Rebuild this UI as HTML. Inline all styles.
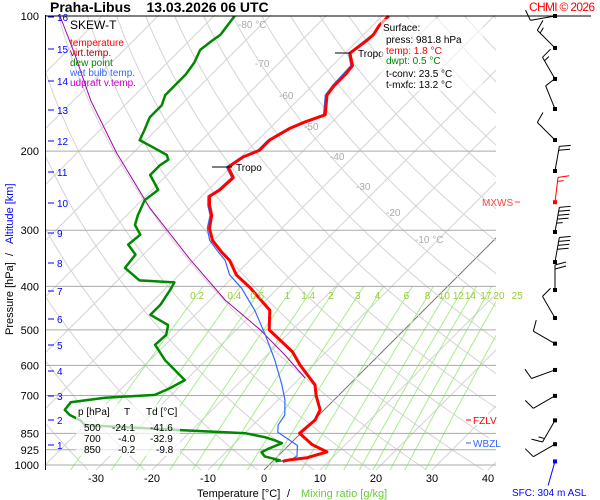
<!DOCTYPE html>
<html><head><meta charset="utf-8">
<style>
body{margin:0;background:#fff;}
svg{display:block;font-family:"Liberation Sans",sans-serif;}
</style></head>
<body>
<svg id="chart" width="600" height="500" viewBox="0 0 600 500" xmlns="http://www.w3.org/2000/svg">
<defs><clipPath id="plotclip"><rect x="45" y="15" width="451" height="455"/></clipPath></defs>
<rect width="600" height="500" fill="#fff"/>
<g id="grid" clip-path="url(#plotclip)"></g>
<g id="series" clip-path="url(#plotclip)"></g>
<g id="overlay"></g>
<g id="barbs"></g>

<text x="50" y="12" font-size="14" font-weight="bold">Praha-Libus&#160;&#160;&#160; 13.03.2026 06 UTC</text>
<text x="529" y="11" font-size="12" fill="#f00" textLength="66">CHMI © 2026</text>

<text x="70" y="29" font-size="12">SKEW-T</text>
<text x="70" y="46" font-size="10" fill="#f00">temperature</text>
<text x="70" y="56" font-size="10" fill="#a00">virt.temp.</text>
<text x="70" y="66" font-size="10" fill="#080">dew point</text>
<text x="70" y="76" font-size="10" fill="#36f">wet bulb temp.</text>
<text x="70" y="86" font-size="10" fill="#c0c">udpraft v.temp.</text>

<rect x="381" y="19" width="102" height="72" fill="#fff" opacity="0.6"/>
<g font-size="10">
<text x="383" y="31">Surface:</text>
<text x="386" y="43">press: 981.8 hPa</text>
<text x="386" y="54" fill="#f00">temp: 1.8 °C</text>
<text x="386" y="64" fill="#080">dwpt: 0.5 °C</text>
<text x="386" y="77">t-conv: 23.5 °C</text>
<text x="386" y="88">t-mxfc: 13.2 °C</text>
</g>

<rect x="76" y="404" width="104" height="52" fill="#fff" opacity="0.7"/>
<g font-size="10">
<text x="78" y="415">p [hPa]</text><text x="124" y="415">T</text><text x="146" y="415">Td [°C]</text>
<text x="84" y="431">500</text><text x="112" y="431">-24.1</text><text x="150" y="431">-41.6</text>
<text x="84" y="442">700</text><text x="118" y="442">-4.0</text><text x="150" y="442">-32.9</text>
<text x="84" y="453">850</text><text x="118" y="453">-0.2</text><text x="156" y="453">-9.8</text>
</g>

<g font-size="11">
<text x="197" y="497">Temperature [°C]</text><text x="287" y="497">/</text><text x="301" y="497" fill="#6c3">Mixing ratio [g/kg]</text>
</g>
<g transform="translate(13,250) rotate(-90)" font-size="11">
<text x="-85" y="0">Pressure [hPa]</text><text x="-6" y="0">/</text><text x="6" y="0" fill="#00f">Altitude [km]</text>
</g>

<text x="512" y="496" font-size="10" fill="#00f">SFC: 304 m ASL</text>
<g><text x="482" y="206" font-size="10" fill="#f44">MXWS</text><line x1="515" y1="202" x2="520" y2="202" stroke="#f44"/></g>
<g><rect x="472" y="414" width="32" height="11" fill="#fff"/><line x1="466" y1="420" x2="471" y2="420" stroke="#f00"/><text x="473" y="424" font-size="10" fill="#f00">FZLV</text></g>
<g><rect x="472" y="438" width="32" height="11" fill="#fff"/><line x1="466" y1="443" x2="471" y2="443" stroke="#36f"/><text x="473" y="447" font-size="10" fill="#36f">WBZL</text></g>

<script>
// ---- data ----
const pressureLevels=[100,200,300,400,500,600,700,850,925,1000];
const heightKm=[16,15,14,13,12,11,10,9,8,7,6,5,4,3,2,1];
const heightY=[17,49,81,110,141,172,203,233,263,291,319,345,371,396,420,445];
const tempTicks=[-30,-20,-10,0,10,20,30,40];
const isothermLabels=[-80,-70,-60,-50,-40,-30,-20,-10];
const mixingRatios=[0.2,0.4,0.6,1,1.4,2,3,4,6,8,10,12,14,17,20,25];

const tempP=[100,105,110,114,121,129,135,143,150,166,172,178,189,199,206,217,229,244,252,264,278,297,316,336,350,377,403,452,500,560,599,663,700,754,794,850,901,935,963,973,978,981.8];
const tempT=[-58.8,-58.8,-58.2,-58.4,-59.1,-56.4,-56.1,-56.1,-55.7,-52.5,-54.8,-56.4,-57.9,-57.9,-59.6,-60.5,-57.7,-57.9,-58.6,-57,-54.8,-52.9,-50.2,-46.4,-43.6,-39.8,-35,-27.5,-24.1,-16,-12.3,-6.1,-4.0,-0.7,0.2,-0.2,4.1,8,5.5,2.9,2.1,1.8];

const dewP=[100,105,110,114,119,127,135,143,150,158,168,180,189,197,204,209,215,226,244,257,278,292,307,323,340,364,388,392,408,440,463,488,513,540,584,647,674,698,708,725,754,774,794,815,836,850,858,867,881,894,918,937,957,976,981.8];
const dewT=[-86.3,-85.9,-85.5,-86,-86.4,-85.2,-84.6,-84.6,-84.6,-83.4,-83.4,-82,-81.1,-77,-73.6,-72.5,-73,-73,-68.9,-69.5,-68,-66.8,-64.1,-64.5,-61.4,-60.9,-56.1,-49.5,-48.9,-48,-48,-43,-41.6,-41.8,-37.3,-30.2,-31.4,-32.9,-41.3,-46.6,-46.3,-44.5,-41.8,-40,-22.1,-9.8,-7.9,-5.7,-3.4,-1.6,-2.9,-3.6,-2.3,1.1,0.5];

const wetP=[100,110,121,129,143,150,166,178,189,199,206,217,229,244,252,264,278,297,316,336,350,377,403,452,513,584,663,716,774,815,845,881,905,955,976,981.8];
const wetT=[-59,-58.4,-59.3,-56.7,-56.4,-56,-52.8,-56.7,-58.2,-58.2,-59.9,-60.8,-58,-58.2,-58.9,-57.3,-55.1,-53.3,-50.7,-47,-44.4,-41,-36.6,-30.2,-23.9,-17.7,-12,-8.8,-6.1,-5.5,-4.3,-0.7,1.6,3.4,2.9,1.2];

const updP=[100,122,154,202,268,349,429,500,569,640];
const updT=[-117.5,-107.9,-97,-82.9,-67.1,-50.7,-37.3,-25.7,-16.8,-9.1];

const windP=[100,117.8,138.1,161.1,188.9,221.4,259.8,302.7,353.2,407.6,470.6,536.7,614.2,701.5,795.4,898.8,981.8];
const windDir=[260,315,330,338,315,10,7,10,10,0,330,300,250,240,210,240,196];
const windSpd=[10,15,15,10,10,20,15,45,40,20,10,10,10,10,15,10,0];

// ---- axes ----
const NS='http://www.w3.org/2000/svg';
const Y0=16, KY=195, XB=470;
function yP(p){return Y0+KY*Math.log(p/100);}
function xTY(t,y){return 264+5.6*t+(XB-y);}
function xTP(t,p){return xTY(t,yP(p));}
function mk(tag,attrs,parent){const e=document.createElementNS(NS,tag);for(const k in attrs)e.setAttribute(k,attrs[k]);parent.appendChild(e);return e;}
const grid=document.getElementById('grid'),series=document.getElementById('series'),overlay=document.getElementById('overlay'),barbs=document.getElementById('barbs');

for(let t=-170;t<=40;t+=10){
  const l=mk('line',{x1:xTY(t,470),y1:470,x2:xTY(t,15),y2:15,stroke:t===0?'#777':'#d4d4d4','stroke-width':1},grid);
  
  
}
for(let th=230;th<=520;th+=10){
  let d='';
  for(let p=1050;p>=95;p-=10){const T=th*Math.pow(p/1000,0.2857)-273.15;d+=(d?'L':'M')+xTP(T,p).toFixed(1)+' '+yP(p).toFixed(1);}
  const a=mk('path',{d:d,fill:'none',stroke:'#d4d4d4','stroke-width':1},grid);
  
  
}
mixingRatios.forEach(w=>{
  let d='';
  for(let p=1050;p>=400;p-=10){const e=w*p/(622+w);const L=Math.log(e/6.112);const T=243.5*L/(17.67-L);d+=(d?'L':'M')+xTP(T,p).toFixed(1)+' '+yP(p).toFixed(1);}
  const m=mk('path',{d:d,fill:'none',stroke:'#a6ee8a','stroke-width':1},grid);
  
  
  const e4=w*400/(622+w),L4=Math.log(e4/6.112),T4=243.5*L4/(17.67-L4);
  const tx=mk('text',{x:xTP(T4,400)-6,y:299,'font-size':10,fill:'#9c3','text-anchor':'middle'},overlay);
  tx.textContent=String(w);
  
  
});
pressureLevels.forEach(p=>{
  const y=yP(p);
  const l=mk('line',{x1:45,y1:y,x2:p===100?591:496,y2:y,stroke:p===100?'#000':'#aaa','stroke-width':1},p===100?overlay:grid);
  
  
  const t=mk('text',{x:39,y:y+4,'font-size':11,'text-anchor':'end'},overlay);
  t.textContent=String(p);
  
  
});
mk('line',{x1:45.5,y1:15,x2:45.5,y2:470,stroke:'#000','stroke-width':1},overlay);
heightKm.forEach((h,i)=>{
  const l=mk('line',{x1:48,y1:heightY[i],x2:54,y2:heightY[i],stroke:'#00f'},overlay);
  
  
  const t=mk('text',{x:57,y:heightY[i]+4,'font-size':10,fill:'#00f'},overlay);
  t.textContent=String(h);
  
  
});
tempTicks.forEach(t=>{
  const tx=mk('text',{x:xTY(t,470),y:482,'font-size':11,'text-anchor':'middle'},overlay);
  tx.textContent=String(t);
  
  
});
const isoLabelY=[28,67,99,130,160,190,216,243];
isothermLabels.forEach((t,i)=>{
  const yy=isoLabelY[i];
  const tx=mk('text',{x:xTY(t,yy)-20,y:yy,'font-size':10,fill:'#aaa'},overlay);
  tx.textContent=(t===-80||t===-10)?t+' °C':String(t);
  
  
});
function line(P,T,color,w,name){
  let d='';P.forEach((p,i)=>{d+=(i?'L':'M')+xTP(T[i],p).toFixed(1)+' '+yP(p).toFixed(1);});
  const e=mk('path',{d:d,fill:'none',stroke:color,'stroke-width':w,'stroke-linejoin':'round'},series);
  
  
}
line(updP,updT,'#a0a','1','updraft-line');
line(dewP,dewT,'#080','2.5','dew-point-line');
line(wetP,wetT,'#36f','1.2','wet-bulb-line');
line(tempP,tempT,'#f00','3','temperature-line');
[[53,335,350,358],[167,212,232,236]].forEach(m=>{
  const g=mk('g',{},overlay);
  
  
  mk('line',{x1:m[1],y1:m[0],x2:m[2],y2:m[0],stroke:'#000'},g);
  const t=mk('text',{x:m[3],y:m[0]+4,'font-size':10},g);t.textContent='Tropo';
});
windP.forEach((p,i)=>{
  const y=yP(p),x=555,r=windDir[i]*Math.PI/180;
  const ux=Math.sin(r),uy=-Math.cos(r);
  const col=i===6?'#f00':(i===windP.length-1?'#00f':'#000');
  const g=mk('g',{},barbs);
  
  
  const L=25,ex=x+ux*L,ey=y+uy*L;
  mk('line',{x1:x,y1:y,x2:ex,y2:ey,stroke:col,'stroke-width':1},g);
  mk('rect',{x:x-2,y:y-2,width:4,height:4,fill:col},g);
  let s=windSpd[i],k=0;
  const px=-uy,py=ux;
  while(s>=10){const bx=ex-ux*k*4,by=ey-uy*k*4;mk('line',{x1:bx,y1:by,x2:bx+px*11+ux*3,y2:by+py*11+uy*3,stroke:col},g);s-=10;k++;}
  if(s>=5){const bx=ex-ux*k*4,by=ey-uy*k*4;mk('line',{x1:bx,y1:by,x2:bx+px*6+ux*1.5,y2:by+py*6+uy*1.5,stroke:col},g);}
});
</script>
</svg>
</body></html>
